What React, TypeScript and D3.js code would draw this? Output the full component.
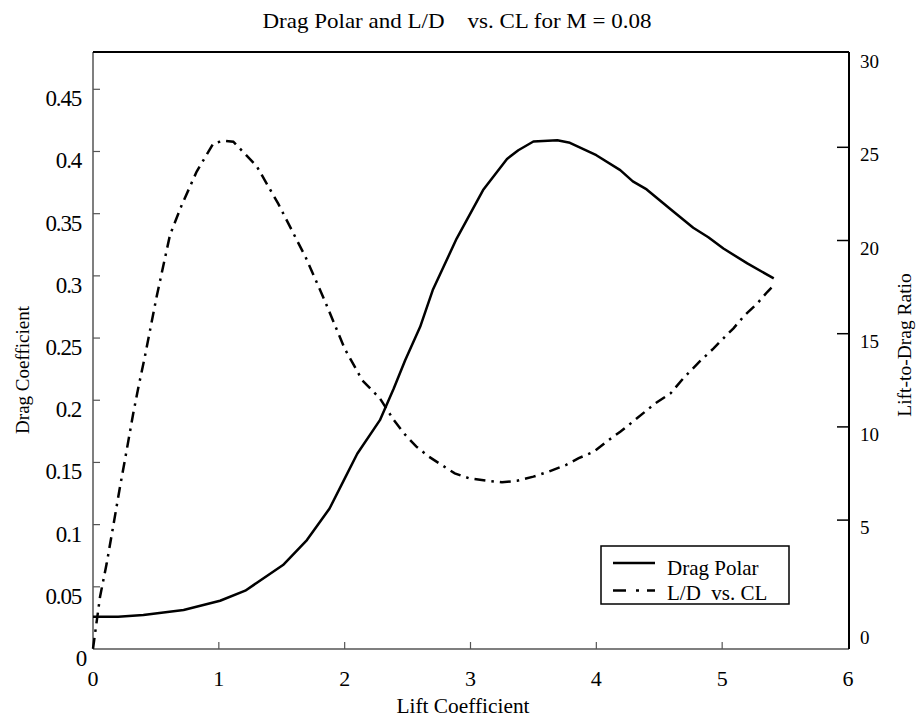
import React from "react";
import * as d3 from "d3";

const polarCL = [0, 0.2, 0.4, 0.72, 1.01, 1.21, 1.51, 1.7, 1.88, 2.0, 2.1, 2.28, 2.39, 2.48, 2.6, 2.7, 2.89, 3.1, 3.29, 3.38, 3.5, 3.69, 3.79, 4.0, 4.19, 4.29, 4.4, 4.59, 4.77, 4.89, 5.01, 5.2, 5.41];
const polarCD = [0.026, 0.026, 0.0273, 0.0313, 0.0388, 0.0469, 0.0675, 0.0876, 0.113, 0.137, 0.157, 0.184, 0.2095, 0.232, 0.259, 0.2886, 0.33, 0.369, 0.394, 0.401, 0.408, 0.409, 0.407, 0.397, 0.385, 0.376, 0.3695, 0.3535, 0.3387, 0.331, 0.322, 0.31, 0.298];

const ldCL = [0, 0.056, 0.109, 0.16, 0.215, 0.268, 0.32, 0.36, 0.413, 0.506, 0.612, 0.705, 0.824, 0.956, 1.036, 1.115, 1.3, 1.473, 1.69, 1.84, 2.0, 2.14, 2.28, 2.39, 2.47, 2.57, 2.67, 2.77, 2.875, 2.99, 3.13, 3.25, 3.37, 3.5, 3.62, 3.76, 3.86, 3.98, 4.08, 4.19, 4.29, 4.47, 4.59, 4.69, 4.82, 4.93, 5.01, 5.09, 5.18, 5.28, 5.36, 5.41];
const ldVal = [-1.9, 0.89, 2.68, 4.65, 6.8, 8.76, 10.73, 12.1, 13.8, 17.0, 20.3, 21.9, 23.7, 25.2, 25.35, 25.3, 24.0, 21.96, 19.1, 16.8, 14.2, 12.5, 11.53, 10.37, 9.66, 8.94, 8.4, 7.96, 7.51, 7.24, 7.11, 7.03, 7.11, 7.33, 7.6, 7.96, 8.32, 8.67, 9.2, 9.74, 10.28, 11.27, 11.8, 12.6, 13.5, 14.2, 14.75, 15.29, 16.0, 16.63, 17.25, 17.6];

const xTicks = [0, 1, 2, 3, 4, 5, 6];
const leftTicks = [0, 0.05, 0.1, 0.15, 0.2, 0.25, 0.3, 0.35, 0.4, 0.45];
const leftTickLabels = ["0", "0.05", "0.1", "0.15", "0.2", "0.25", "0.3", "0.35", "0.4", "0.45"];
const rightTicks = [0, 5, 10, 15, 20, 25, 30];

const title = "Drag Polar and L/D    vs. CL for M = 0.08";
const xLabel = "Lift Coefficient";
const yLabelLeft = "Drag Coefficient";
const yLabelRight = "Lift-to-Drag Ratio";
const legendLabels = ["Drag Polar", "L/D  vs. CL"];

export default function App() {
  const L = 93, R = 849, T = 52, B = 649;
  const x = d3.scaleLinear().domain([0, 6]).range([L, 848]);
  const yL = d3.scaleLinear().domain([0, 0.45]).range([B, 89.3]);
  const yR = d3.scaleLinear().domain([0, 30]).range([613.3, 54.1]);

  const polarLine = d3.line<number>().x((_, i) => x(polarCL[i])).y((d) => yL(d));
  const ldLine = d3.line<number>().x((_, i) => x(ldCL[i])).y((d) => yR(d));

  const font = "'Liberation Serif', 'Times New Roman', serif";
  const dash = "11,6,2.5,6";

  return (
    <svg width={919} height={717} style={{ position: "absolute", left: 0, top: 0, background: "#fff" }} fontFamily={font}>
      <rect x={0} y={0} width={919} height={717} fill="#fff" />
      <text x={457} y={28} fontSize={21} textAnchor="middle" textLength={389} lengthAdjust="spacingAndGlyphs" style={{ whiteSpace: "pre" }}>{title}</text>

      <line x1={L} x2={L} y1={T} y2={B} stroke="#555" strokeWidth={1.5} />
      <line x1={L} x2={R} y1={B} y2={B} stroke="#555" strokeWidth={1.5} />
      <line x1={L} x2={R} y1={T} y2={T} stroke="#000" strokeWidth={2} />
      <line x1={R} x2={R} y1={T} y2={B} stroke="#000" strokeWidth={2} />

      {xTicks.map((t) => (
        <g key={"x" + t}>
          {t > 0 && t < 6 && <line x1={x(t)} x2={x(t)} y1={B} y2={B - 7} stroke="#555" strokeWidth={1.2} />}
          <text x={x(t)} y={686} fontSize={22} textAnchor="middle">{t}</text>
        </g>
      ))}

      {leftTicks.map((t, i) => (
        <g key={"l" + t}>
          {t > 0 && <line x1={L} x2={L + 7} y1={yL(t)} y2={yL(t)} stroke="#555" strokeWidth={1.2} />}
          <text x={i === 0 ? 86 : 81} y={yL(t) + 17} fontSize={23} textAnchor="end" letterSpacing={-1.2}>{leftTickLabels[i]}</text>
        </g>
      ))}

      {rightTicks.map((t) => (
        <g key={"r" + t}>
          {t > 0 && t < 30 && <line x1={R - 12} x2={R} y1={yR(t)} y2={yR(t)} stroke="#000" strokeWidth={1.5} />}
          <text x={860} y={t === 0 ? (yR(0) + B) / 2 + 13 : yR(t) + 14} fontSize={19}>{t}</text>
        </g>
      ))}

      <text x={463} y={713} fontSize={20} textAnchor="middle" textLength={133} lengthAdjust="spacingAndGlyphs">{xLabel}</text>
      <text transform="translate(29,370) rotate(-90)" fontSize={19} textAnchor="middle">{yLabelLeft}</text>
      <text transform="translate(911,345) rotate(-90)" fontSize={19.5} textAnchor="middle">{yLabelRight}</text>

      <path d={polarLine(polarCD) || ""} fill="none" stroke="#000" strokeWidth={2.5} strokeLinejoin="round" />
      <path d={ldLine(ldVal) || ""} fill="none" stroke="#000" strokeWidth={2.5} strokeDasharray={dash} />

      <rect x={601} y={546} width={188} height={58} fill="#fff" stroke="#000" strokeWidth={1.5} />
      <line x1={613} x2={655} y1={563} y2={563} stroke="#000" strokeWidth={2.5} />
      <text x={667} y={575} fontSize={21}>{legendLabels[0]}</text>
      <line x1={613} x2={655} y1={590.5} y2={590.5} stroke="#000" strokeWidth={2.5} strokeDasharray="13,10,3,8" />
      <text x={667} y={600} fontSize={21} style={{ whiteSpace: "pre" }}>{legendLabels[1]}</text>
    </svg>
  );
}
